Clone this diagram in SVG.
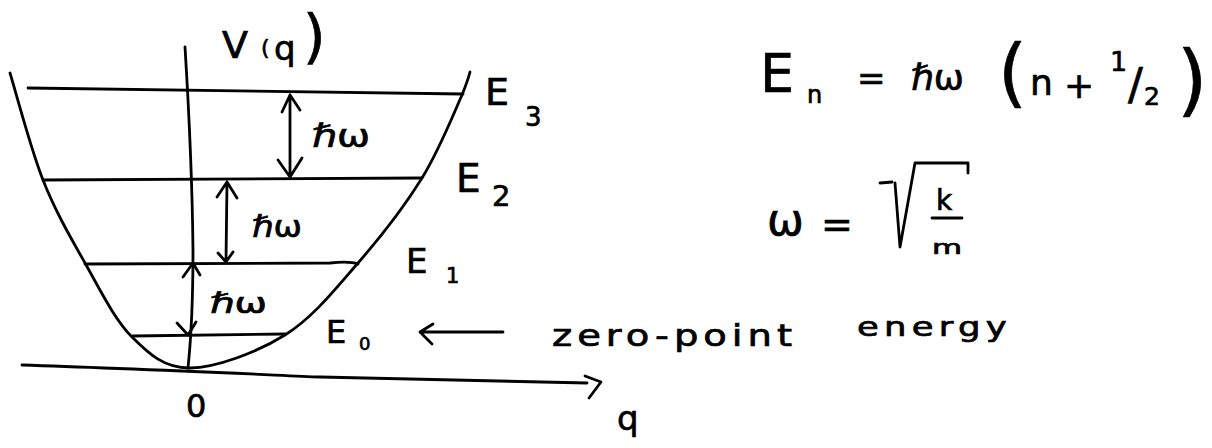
<svg xmlns="http://www.w3.org/2000/svg" width="1212" height="448" viewBox="0 0 1212 448">
  <defs>
    <style>
      .ln { fill: none; stroke: #000; stroke-width: 2.8; stroke-linecap: round; stroke-linejoin: round; }
      .txt { font-family: "DejaVu Sans", "Liberation Sans", sans-serif; fill: #000; stroke: #000; stroke-width: 0.7; }
    </style>
  </defs>
  <rect x="0" y="0" width="1212" height="448" fill="#fff"/>

  <g id="potential">
    <path class="ln" d="M10,73 C15.5,90.8 30.5,148.3 43,180 C55.5,211.7 70.2,236.8 85,263 C99.8,289.2 114.5,319.5 132,337 C149.5,354.5 164.5,368.3 190,368 C215.5,367.7 257,352.5 285,335 C313,317.5 335.2,289.2 358,263 C380.8,236.8 404.7,206 422,178 C439.3,150 454,112.7 462,95 C468,80 469,76 470,72"/>
  </g>

  <g id="axes">
    <path class="ln" d="M185,47 Q192,160 193,250 Q193,320 188,368"/>
    <path class="ln" d="M22,365 C120,368 250,374 320,377 L587,383"/>
    <path class="ln" d="M585,376 L601,382 L589,398"/>
    <text class="txt" x="186" y="417" font-size="32">0</text>
    <text class="txt" x="617" y="430" font-size="34">q</text>
    <text class="txt"><tspan x="222" y="58" font-size="38">V</tspan><tspan x="261" y="55" font-size="22">(</tspan><tspan x="274" y="60" font-size="34">q</tspan><tspan x="303" y="57" font-size="58">)</tspan></text>
  </g>

  <g id="levels">
    <path id="E3-line" class="ln" d="M28,88 L463,94"/>
    <path id="E2-line" class="ln" d="M43,180 L422,178"/>
    <path id="E1-line" class="ln" d="M85,264 L330,263 Q350,261 358,264"/>
    <path id="E0-line" class="ln" d="M133,336 L285,334"/>
  </g>

  <g id="level-labels">
    <text id="E3" class="txt"><tspan x="485" y="105" font-size="38">E</tspan><tspan x="525" y="126" font-size="26">3</tspan></text>
    <text id="E2" class="txt"><tspan x="456" y="192" font-size="39">E</tspan><tspan x="492" y="206" font-size="29">2</tspan></text>
    <text id="E1" class="txt"><tspan x="406" y="273" font-size="34">E</tspan><tspan x="446" y="283" font-size="21">1</tspan></text>
    <text id="E0" class="txt"><tspan x="326" y="343" font-size="32">E</tspan><tspan x="359" y="350" font-size="18">0</tspan></text>
  </g>

  <g id="connectors">
    <path class="ln" d="M290,95 L290,177 M282,112 L290,95 L300,110 M278,160 L290,177 L302,158"/>
    <path class="ln" d="M227,182 L226,262 M217,197 L227,182 L237,198 M218,253 L226,262 L233,252"/>
    <path class="ln" d="M183,277 L193,263 L200,275 M177,323 L188,335 L196,322"/>
    <path class="ln" d="M503,332 L420,332 M433,324 L420,332 L432,344"/>
  </g>

  <g id="spacing-labels">
    <text class="txt" x="312" y="147" font-size="32" textLength="58" lengthAdjust="spacingAndGlyphs">ℏω</text>
    <text class="txt" x="252" y="237" font-size="30" textLength="50" lengthAdjust="spacingAndGlyphs">ℏω</text>
    <text class="txt" x="210" y="313" font-size="28" textLength="57" lengthAdjust="spacingAndGlyphs">ℏω</text>
  </g>

  <g id="zero-point-label">
    <text class="txt" x="552" y="346" font-size="31" letter-spacing="4" textLength="245" lengthAdjust="spacingAndGlyphs">zero-point</text>
    <text class="txt" x="857" y="336" font-size="27" letter-spacing="4" textLength="155" lengthAdjust="spacingAndGlyphs">energy</text>
  </g>

  <g id="equation-energy">
    <text class="txt"><tspan x="760" y="92" font-size="54">E</tspan><tspan x="807" y="103" font-size="24">n</tspan><tspan x="857" y="90" font-size="34">=</tspan><tspan x="911" y="90" font-size="36">ℏω</tspan><tspan x="998" y="98" font-size="74">(</tspan><tspan x="1030" y="95" font-size="36">n</tspan><tspan x="1064" y="98" font-size="36">+</tspan><tspan x="1110" y="71" font-size="27">1</tspan><tspan x="1128" y="100" font-size="44">/</tspan><tspan x="1144" y="105" font-size="25">2</tspan><tspan x="1177" y="107" font-size="78">)</tspan></text>
  </g>

  <g id="equation-omega">
    <text class="txt"><tspan x="767" y="235" font-size="44">ω</tspan><tspan x="821" y="237" font-size="38">=</tspan></text>
    <path class="ln" d="M880,183 L892,182 M895,183 L900,247 L915,163 L968,163 L968,173"/>
    <text class="txt" x="936" y="210" font-size="28">k</text>
    <path class="ln" d="M932,218 L962,218"/>
    <text class="txt" x="932" y="254" font-size="20" textLength="30" lengthAdjust="spacingAndGlyphs">m</text>
  </g>
</svg>
